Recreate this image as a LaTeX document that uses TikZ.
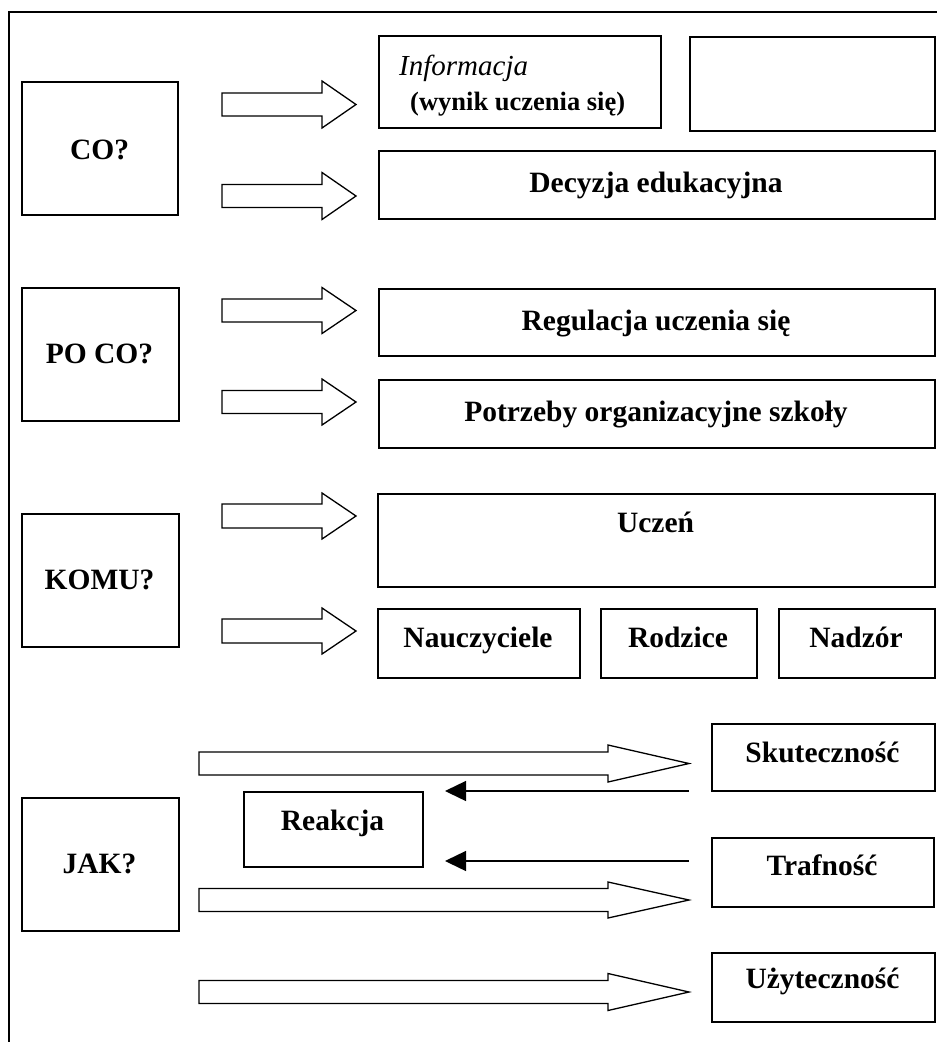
\documentclass[tikz,border=0pt]{standalone}
\usepackage{fontspec}
\setmainfont{Liberation Serif}
\usetikzlibrary{arrows.meta}
\newcommand\mkarrow[6]{%
  \draw[barrow] (#1,#4-#5) -- (#2,#4-#5) -- (#2,#4-#6) -- (#3,#4) -- (#2,#4+#6) -- (#2,#4+#5) -- (#1,#4+#5) -- cycle;}
\begin{document}
\begin{tikzpicture}[x=1pt,y=-1pt,
  box/.style={draw, line width=1.8pt, inner sep=0pt, anchor=north west},
  lbl/.style={font=\fontsize{29.5}{33}\selectfont\bfseries, anchor=base, inner sep=0pt},
  barrow/.style={draw, line width=1.3pt, fill=white, line join=miter},
  back/.style={line width=1.4pt, -{Triangle[length=21pt,width=20pt]}},
  frame/.style={line width=1.5pt}]
\useasboundingbox (0,0) rectangle (937,1042);
% frame
\coordinate (ftr) at (937,12);
\coordinate (ftl) at (9,12);
\coordinate (fbl) at (9,1042);
\draw[frame] (ftr) -- (ftl) -- (fbl);
% boxes
\node[box, minimum width=156pt, minimum height=133pt] (co) at (21,81) {};
\node[box, minimum width=282pt, minimum height=92pt] (info) at (378,35) {};
\node[box, minimum width=245pt, minimum height=94pt] (empty) at (689,36) {};
\node[box, minimum width=556pt, minimum height=68pt] (dec) at (378,150) {};
\node[box, minimum width=157pt, minimum height=133pt] (poco) at (21,287) {};
\node[box, minimum width=556pt, minimum height=67pt] (reg) at (378,288) {};
\node[box, minimum width=556pt, minimum height=68pt] (potr) at (378,379) {};
\node[box, minimum width=157pt, minimum height=133pt] (komu) at (21,513) {};
\node[box, minimum width=557pt, minimum height=93pt] (uczen) at (377,493) {};
\node[box, minimum width=202pt, minimum height=69pt] (naucz) at (377,608) {};
\node[box, minimum width=156pt, minimum height=69pt] (rodz) at (600,608) {};
\node[box, minimum width=156pt, minimum height=69pt] (nadz) at (778,608) {};
\node[box, minimum width=157pt, minimum height=133pt] (jak) at (21,797) {};
\node[box, minimum width=223pt, minimum height=67pt] (skut) at (711,723) {};
\node[box, minimum width=179pt, minimum height=75pt] (reak) at (243,791) {};
\node[box, minimum width=222pt, minimum height=69pt] (traf) at (711,837) {};
\node[box, minimum width=223pt, minimum height=69pt] (uzyt) at (711,952) {};
% texts
\node[lbl] (tco) at (99.5,159) {CO?};
\node[font=\fontsize{29}{33}\selectfont\itshape, anchor=base west, inner sep=0pt] (tinfo) at (399,75) {Informacja};
\node[font=\fontsize{26.5}{30}\selectfont\bfseries, anchor=base west, inner sep=0pt] (twyn) at (410,110) {(wynik uczenia się)};
\node[lbl] (tdec) at (656,192) {Decyzja edukacyjna};
\node[lbl] (tpoco) at (99.5,363) {PO CO?};
\node[lbl] (treg) at (656,330) {Regulacja uczenia się};
\node[lbl] (tpotr) at (656,421) {Potrzeby organizacyjne szkoły};
\node[lbl] (tkomu) at (99.5,589) {KOMU?};
\node[lbl] (tuczen) at (655.5,532) {Uczeń};
\node[lbl] (tnaucz) at (478,647) {Nauczyciele};
\node[lbl] (trodz) at (678,647) {Rodzice};
\node[lbl] (tnadz) at (856,647) {Nadzór};
\node[lbl] (tskut) at (822.5,762) {Skuteczność};
\node[lbl] (treak) at (332.5,830) {Reakcja};
\node[lbl] (tjak) at (99.5,873) {JAK?};
\node[lbl] (ttraf) at (822,875) {Trafność};
\node[lbl] (tuzyt) at (822.5,988) {Użyteczność};
% block arrows
\mkarrow{222}{322}{356}{104.5}{11.5}{23.5}
\mkarrow{222}{322}{356}{196}{11.5}{23.5}
\mkarrow{222}{322}{356}{310.5}{11.5}{23}
\mkarrow{222}{322}{356}{402}{11.5}{23}
\mkarrow{222}{322}{356}{516}{12}{23}
\mkarrow{222}{322}{356}{631}{12}{23}
\mkarrow{199}{608}{689}{763.5}{11.5}{18.5}
\mkarrow{199}{608}{689}{900}{11.5}{18}
\mkarrow{199}{608}{689}{992}{11.5}{18.5}
% back arrows
\coordinate (s1) at (689,791);
\coordinate (r1) at (445,791);
\coordinate (s2) at (689,861);
\coordinate (r2) at (445,861);
\draw[back] (s1) -- (r1);
\draw[back] (s2) -- (r2);
\end{tikzpicture}
\end{document}
